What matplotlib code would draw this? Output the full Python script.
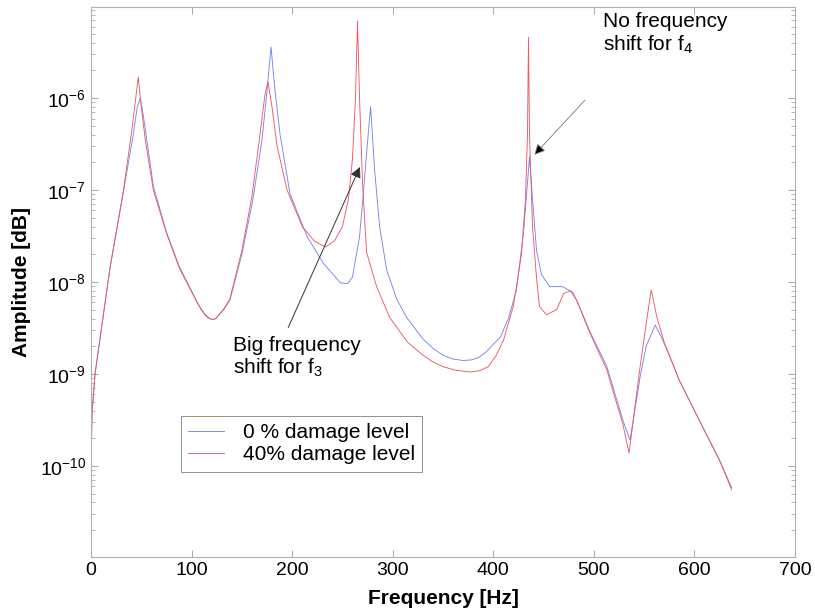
import matplotlib
matplotlib.use("Agg")
import matplotlib.pyplot as plt
from matplotlib.ticker import LogLocator, NullFormatter, FixedLocator

plt.rcParams['font.family'] = ['Liberation Sans', 'DejaVu Sans']
plt.rcParams['mathtext.fontset'] = 'custom'
plt.rcParams['mathtext.rm'] = 'Liberation Sans'
plt.rcParams['mathtext.it'] = 'Liberation Sans'
plt.rcParams['mathtext.default'] = 'regular'

# undamaged beam, 0 % damage level
freq_0 = [0, 1, 4, 19, 32, 42, 46, 49, 52, 56, 62, 75, 88, 100, 105, 110, 113, 116, 118, 121,
          124, 128, 132, 138, 150, 161, 170, 175, 179, 183, 188, 198, 215, 231, 248, 255,
          260, 267, 270, 274, 278, 282, 287, 294, 304, 314, 330, 340, 350, 360, 370, 378,
          385, 392, 400, 407, 415, 423, 430, 434, 436, 439, 443, 448, 456, 469, 479, 483,
          496, 513, 519, 529, 536, 546, 552, 561, 568, 576, 585, 605, 625, 637]
amp_0 = [1.0e-10, 3.7e-10, 1.0e-9, 1.45e-8, 9.3e-8, 4.0e-7, 8.0e-7, 1.0e-6, 6.5e-7, 3.2e-7,
         1.1e-7, 3.5e-8, 1.45e-8, 8.0e-9, 6.2e-9, 5.0e-9, 4.5e-9, 4.2e-9, 4.0e-9, 3.9e-9,
         4.0e-9, 4.5e-9, 5.0e-9, 6.3e-9, 2.0e-8, 7.9e-8, 3.5e-7, 1.2e-6, 3.6e-6, 1.2e-6,
         4.0e-7, 9.0e-8, 3.1e-8, 1.6e-8, 9.8e-9, 9.6e-9,
         1.13e-8, 3.1e-8, 7.2e-8, 2.5e-7, 8.1e-7, 1.66e-7, 4.0e-8, 1.35e-8, 6.5e-9, 4.1e-9,
         2.4e-9, 1.9e-9, 1.6e-9, 1.45e-9, 1.4e-9, 1.42e-9,
         1.5e-9, 1.7e-9, 2.1e-9, 2.5e-9, 4.0e-9, 8.1e-9, 3.4e-8, 1.2e-7, 2.3e-7, 8.0e-8,
         2.2e-8, 1.2e-8, 8.9e-9, 8.9e-9, 7.7e-9, 6.3e-9,
         2.9e-9, 1.2e-9, 7.2e-10, 3.1e-10, 1.9e-10, 9.3e-10, 2.0e-9, 3.4e-9, 2.4e-9, 1.5e-9,
         8.5e-10, 3.1e-10, 1.15e-10, 5.8e-11]

# damaged beam, 40 % damage level
freq_40 = [0, 1, 4, 19, 32, 40, 44, 47, 50, 54, 62, 75, 88, 100, 105, 110, 113, 116, 118,
           121, 124, 128, 132, 138, 150, 160, 168, 173, 176, 180, 185, 195, 210, 222, 233,
           242, 250, 256, 260, 263, 265, 267, 270, 274, 284, 297, 315, 330, 340, 350, 362,
           377, 386, 395, 403, 410, 420, 428, 432, 434, 435, 436, 439, 443, 446, 453, 463,
           470, 477, 483, 496, 513, 519, 529, 535, 546, 552, 557, 563, 570, 576, 585, 605,
           625, 637]
amp_40 = [1.0e-10, 3.7e-10, 1.0e-9, 1.45e-8, 9.5e-8, 4.0e-7, 9.0e-7, 1.7e-6, 8.0e-7, 3.5e-7,
          1.0e-7, 3.4e-8, 1.4e-8, 7.8e-9, 6.1e-9, 4.9e-9, 4.4e-9, 4.1e-9, 4.0e-9,
          3.9e-9, 4.0e-9, 4.5e-9, 5.1e-9, 6.5e-9, 2.2e-8, 8.5e-8, 4.0e-7, 1.1e-6, 1.5e-6,
          8.0e-7, 3.0e-7, 1.0e-7, 4.0e-8, 2.8e-8, 2.4e-8,
          2.8e-8, 4.0e-8, 8.0e-8, 2.2e-7, 1.0e-6, 6.9e-6, 1.0e-6, 1.2e-7, 2.1e-8, 8.9e-9,
          4.1e-9, 2.2e-9, 1.6e-9, 1.35e-9, 1.2e-9, 1.1e-9,
          1.05e-9, 1.08e-9, 1.2e-9, 1.6e-9, 2.3e-9, 5.5e-9, 2.0e-8, 8.0e-8, 4.0e-7, 4.6e-6,
          4.0e-7, 4.0e-8, 1.1e-8, 5.4e-9, 4.4e-9, 5.0e-9,
          7.5e-9, 8.0e-9, 6.3e-9, 2.8e-9, 1.1e-9, 6.5e-10, 2.8e-10, 1.38e-10, 1.2e-9, 3.5e-9,
          8.2e-9, 4.0e-9, 2.2e-9, 1.5e-9, 8.5e-10, 3.1e-10, 1.15e-10, 5.5e-11]

labels = ['0 % damage level', '40% damage level']
y_major = [1e-10, 1e-9, 1e-8, 1e-7, 1e-6]

fig = plt.figure(figsize=(8.15, 6.16), dpi=100)
ax = fig.add_axes([91 / 815, 1 - 557 / 616, 704 / 815, 550 / 616])

ax.semilogy(freq_0, amp_0, color='#7686e4', lw=0.65, label=labels[0])
ax.semilogy(freq_40, amp_40, color='#ea5a68', lw=0.65, label=labels[1])

ax.set_xlim(0, 700)
ax.set_ylim(1.02e-11, 0.98e-5)
ax.set_xticks(range(0, 701, 100))
ax.yaxis.set_major_locator(FixedLocator(y_major))
ax.yaxis.set_minor_locator(LogLocator(base=10, subs=range(2, 10)))
ax.yaxis.set_minor_formatter(NullFormatter())

ax.tick_params(which='both', direction='in', top=True, right=True, colors='#9a9a9a',
               labelcolor='black', labelsize=14)
ax.tick_params(which='major', length=5, width=0.6)
ax.tick_params(which='minor', length=3, width=0.5)
for sp in ax.spines.values():
    sp.set_color('#b0b0b0')
    sp.set_linewidth(0.8)

ax.set_xlabel('Frequency [Hz]', fontsize=15, fontweight='bold', labelpad=7)
ax.set_ylabel('Amplitude [dB]', fontsize=15, fontweight='bold', labelpad=6)

# annotation for the shifted third mode
ax.annotate('', xy=(268.5, 1.9e-7), xytext=(195, 3.0e-9),
            arrowprops=dict(arrowstyle='-|>', color='#333333', lw=0.7, mutation_scale=16))
ax.text(141, 2.6e-9, 'Big frequency\nshift for f$_3$', fontsize=15, va='top', ha='left',
        linespacing=1.1)

# annotation for the unchanged fourth mode
ax.annotate('', xy=(439, 2.3e-7), xytext=(493, 1.0e-6),
            arrowprops=dict(arrowstyle='-|>', color='#777777', lw=0.6, mutation_scale=16,
                            fc='black', ec='#777777'))
ax.text(509, 8.6e-6, 'No frequency\nshift for f$_4$', fontsize=15, va='top', ha='left',
        linespacing=1.15)

leg = ax.legend(loc='lower left', bbox_to_anchor=(0.128, 0.155), borderaxespad=0,
                fontsize=15, fancybox=False, framealpha=1, edgecolor='#909090',
                handlelength=1.7, handletextpad=0.9, labelspacing=0.15, borderpad=0.35)
leg.get_frame().set_linewidth(0.7)

fig.savefig('out.png', dpi=100)
